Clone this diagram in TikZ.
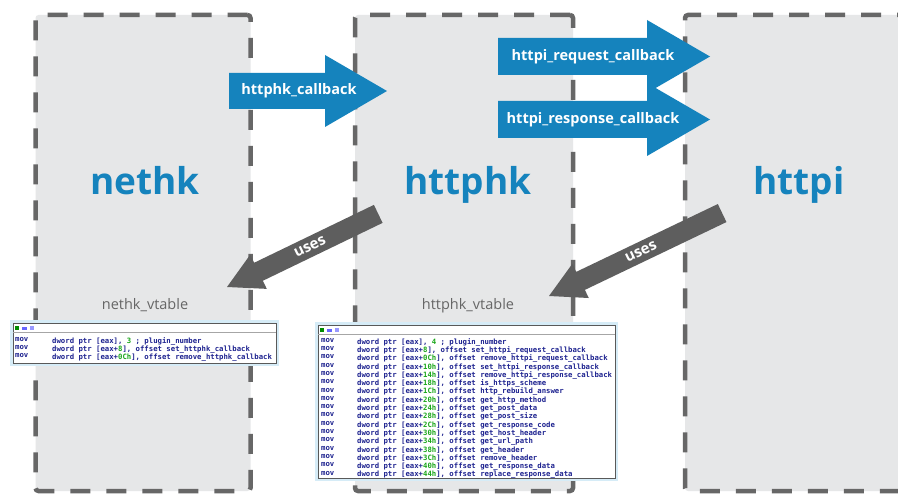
\documentclass[tikz,border=0pt]{standalone}
\usepackage{fontspec}
\setmainfont{Open Sans}
\newfontfamily\idafont{DejaVu Sans Mono}
\usepackage{xcolor}
\usepackage{tikz}

\definecolor{panelgray}{HTML}{E6E7E8}
\definecolor{dashgray}{HTML}{676767}
\definecolor{cbblue}{HTML}{1583BD}
\definecolor{usesgray}{HTML}{5E5E5E}
\definecolor{labelgray}{HTML}{666666}
\definecolor{idanavy}{HTML}{1E2390}
\definecolor{idagreen}{HTML}{19A619}
\definecolor{idaglow}{HTML}{D6ECF7}

\newcommand{\idn}[1]{\textcolor{idagreen}{#1}}

\begin{document}
\begin{tikzpicture}[x=1pt, y=-1pt,
  panel/.style={
      draw=dashgray,
      fill=panelgray,
      line width=4.5pt,
      dash pattern=on 20pt off 16pt,
      rounded corners=3pt,
      minimum height=476pt,
      inner sep=0pt
  },
  modname/.style={text=cbblue, font=\fontsize{37}{40}\selectfont\bfseries, anchor=base, inner sep=0pt},
  vtname/.style={text=labelgray, font=\fontsize{14.5}{16}\selectfont, anchor=base, inner sep=0pt},
  cblabel/.style={text=white, font=\fontsize{14.5}{16}\selectfont\bfseries, inner sep=0pt},
  fatarrow/.style={fill=cbblue},
  usesarrow/.style={fill=usesgray},
  useslabel/.style={text=white, font=\fontsize{15}{16}\selectfont\bfseries, rotate=25.7, inner sep=0pt},
  idawin/.style={draw=black!65, fill=white, line width=0.8pt},
  idacode/.style={text=idanavy, font=\idafont\bfseries\fontsize{7.3}{8.3}\selectfont, align=left, anchor=north west, inner sep=0pt}
]

\path[use as bounding box] (0,0) rectangle (898,497);
\clip (0,0) rectangle (898,497);
\fill[white] (0,0) rectangle (898,497);

% the three plugins
\node[panel, minimum width=215pt] (nethk)  at (143,253)   {};
\node[panel, minimum width=218pt] (httphk) at (464,253)   {};
\node[panel, minimum width=235pt] (httpi)  at (802.5,253) {};

\node[modname] (nethkName)  at (145,195) {nethk};
\node[modname] (httphkName) at (468,195) {httphk};
\node[modname] (httpiName)  at (799,195) {httpi};

\node[vtname] (nethkVt)  at (145,310) {nethk\_vtable};
\node[vtname] (httphkVt) at (468,310) {httphk\_vtable};

% callbacks
\fill[fatarrow] (229,73) -- (325,73) -- (325,55) -- (387,91) -- (325,127) -- (325,109) -- (229,109) -- cycle;
\fill[fatarrow] (498,38) -- (647,38) -- (647,20) -- (710,56.5) -- (647,93) -- (647,75) -- (498,75) -- cycle;
\fill[fatarrow] (498,101) -- (647,101) -- (647,83) -- (710,119.5) -- (647,156) -- (647,138) -- (498,138) -- cycle;

\node[cblabel] (cbHttphk)   at (299,91)    {httphk\_callback};
\node[cblabel] (cbRequest)  at (593,56.5)  {httpi\_request\_callback};
\node[cblabel] (cbResponse) at (593,119.5) {httpi\_response\_callback};

% uses
\coordinate (usesTipA) at (227,287);
\coordinate (usesTipB) at (549,296);
\begin{scope}[shift={(usesTipA)}, rotate=25.8]
  \fill[usesarrow] (0,0) -- (35,-19) -- (35,-10) -- (168,-10) -- (168,10) -- (35,10) -- (35,19) -- cycle;
\end{scope}
\begin{scope}[shift={(usesTipB)}, rotate=25.6]
  \fill[usesarrow] (0,0) -- (35,-19) -- (35,-10) -- (192,-10) -- (192,10) -- (35,10) -- (35,19) -- cycle;
\end{scope}
\node[useslabel] (usesA) at (310,247) {uses};
\node[useslabel] (usesB) at (641,252) {uses};

% vtable dumps
\fill[idaglow] (10,320) rectangle (279,366);
\draw[idawin] (13,323) rectangle (276,363);
\draw[black!35] (13,332.5) -- (276,332.5);
\fill[green!55!black] (15,326) rectangle (19,330);
\fill[blue!60]        (22,327) rectangle (27,330);
\fill[blue!40]        (30,326) rectangle (34,330);

\node[idacode] (movNethk) at (15,337) {mov\\mov\\mov};
\node[idacode] (opsNethk) at (52,337) {dword ptr [eax], \idn{3} ; plugin\_number\\
dword ptr [eax+\idn{8}], offset set\_httphk\_callback\\
dword ptr [eax+\idn{0Ch}], offset remove\_httphk\_callback};

\fill[idaglow] (315,322) rectangle (618,481);
\draw[idawin] (318,325) rectangle (615,478);
\draw[black!35] (318,334.5) -- (615,334.5);
\fill[green!55!black] (320,328) rectangle (324,332);
\fill[blue!60]        (327,329) rectangle (332,332);
\fill[blue!40]        (335,328) rectangle (339,332);

\node[idacode] (movHttphk) at (321,338) {mov\\mov\\mov\\mov\\mov\\mov\\mov\\mov\\mov\\mov\\mov\\mov\\mov\\mov\\mov\\mov\\mov};
\node[idacode] (opsHttphk) at (357,338) {dword ptr [eax], \idn{4} ; plugin\_number\\
dword ptr [eax+\idn{8}], offset set\_httpi\_request\_callback\\
dword ptr [eax+\idn{0Ch}], offset remove\_httpi\_request\_callback\\
dword ptr [eax+\idn{10h}], offset set\_httpi\_response\_callback\\
dword ptr [eax+\idn{14h}], offset remove\_httpi\_response\_callback\\
dword ptr [eax+\idn{18h}], offset is\_https\_scheme\\
dword ptr [eax+\idn{1Ch}], offset http\_rebuild\_answer\\
dword ptr [eax+\idn{20h}], offset get\_http\_method\\
dword ptr [eax+\idn{24h}], offset get\_post\_data\\
dword ptr [eax+\idn{28h}], offset get\_post\_size\\
dword ptr [eax+\idn{2Ch}], offset get\_response\_code\\
dword ptr [eax+\idn{30h}], offset get\_host\_header\\
dword ptr [eax+\idn{34h}], offset get\_url\_path\\
dword ptr [eax+\idn{38h}], offset get\_header\\
dword ptr [eax+\idn{3Ch}], offset remove\_header\\
dword ptr [eax+\idn{40h}], offset get\_response\_data\\
dword ptr [eax+\idn{44h}], offset replace\_response\_data};

\end{tikzpicture}
\end{document}
